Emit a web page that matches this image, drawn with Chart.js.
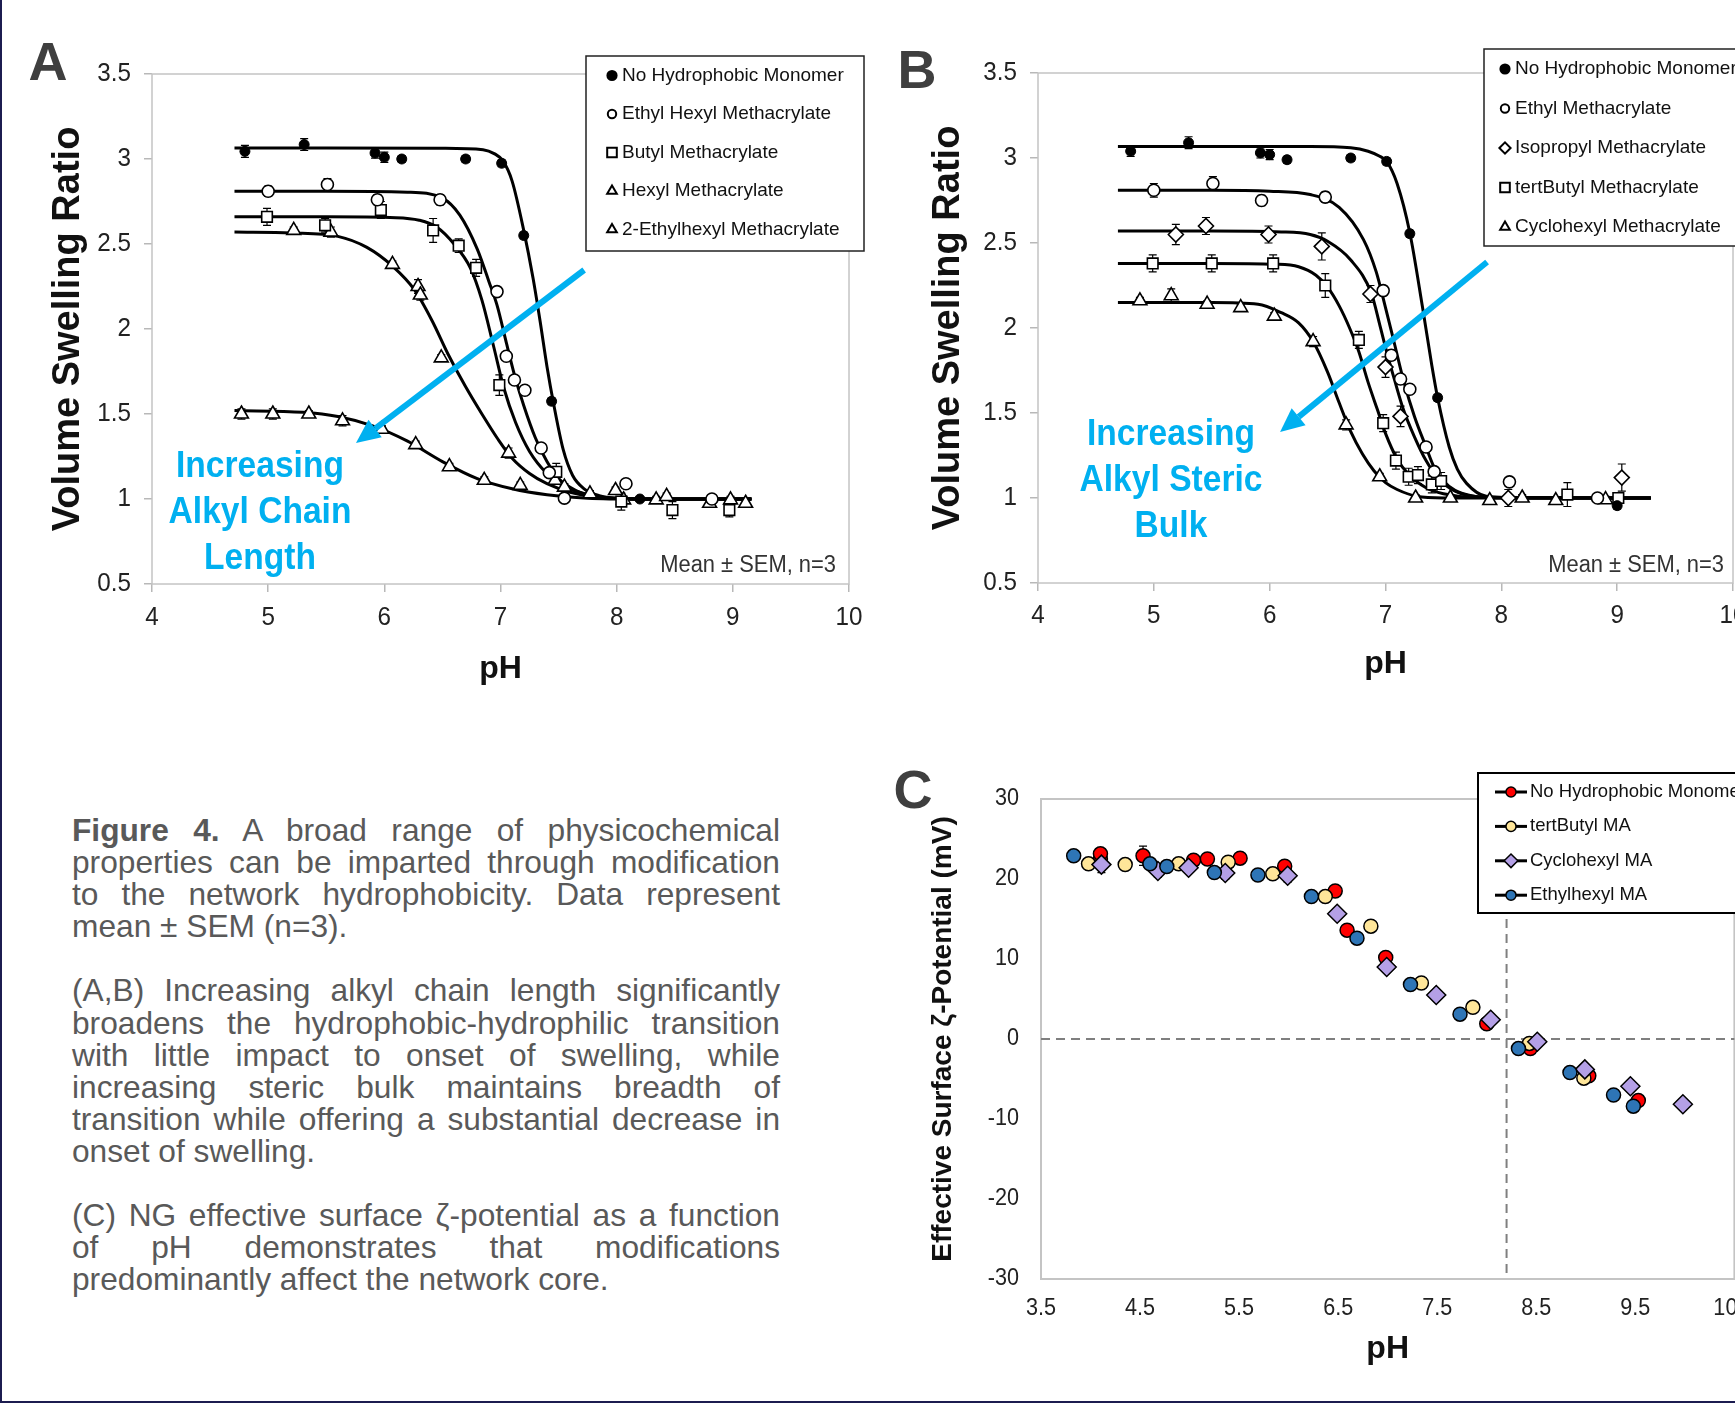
<!DOCTYPE html>
<html>
<head>
<meta charset="utf-8">
<script src="https://cdn.jsdelivr.net/npm/chart.js@4.4.1/dist/chart.umd.min.js"></script>
<style>
  html, body { margin: 0; padding: 0; background: #fff; }
  body { width: 1735px; height: 1406px; overflow: hidden; position: relative; font-family: "Liberation Sans", Arial, sans-serif; }
  canvas { position: absolute; }
  .letter { position: absolute; font: bold 54px "Liberation Sans", Arial, sans-serif; color: #3f3f3f; line-height: 1; transform: translate(-50%, -50%); }
  .blue { position: absolute; font: bold 36.5px "Liberation Sans", Arial, sans-serif; color: #00b0f0; line-height: 46px; text-align: center; transform: translateX(-50%) scaleX(0.92); white-space: nowrap; }
  .sem { position: absolute; font: 23.3px "Liberation Sans", Arial, sans-serif; color: #333; line-height: 28px; white-space: nowrap; transform: scaleX(0.94); transform-origin: right center; }
  #caption { position: absolute; left: 72px; top: 814px; width: 708px; font-size: 31.7px; line-height: 32.1px; color: #595959; }
  #caption .j { text-align: justify; text-align-last: justify; white-space: nowrap; }
  #caption .l { text-align: left; white-space: nowrap; }
  #caption .gap { height: 32.1px; }
  #edgeL { position: absolute; left: 0; top: 0; width: 2px; height: 1403px; background: #1c1c50; }
  #edgeB { position: absolute; left: 0; top: 1401px; width: 1735px; height: 2px; background: #1c1c50; }
</style>
</head>
<body>
<canvas id="cvA" width="880" height="700" style="left:0;top:0"></canvas>
<canvas id="cvB" width="1000" height="700" style="left:880px;top:0"></canvas>
<canvas id="cvC" width="1000" height="666" style="left:880px;top:740px"></canvas>

<div class="letter" style="left:48px;top:61px">A</div>
<div class="letter" style="left:917px;top:69px">B</div>
<div class="letter" style="left:913px;top:789px">C</div>

<div class="blue" style="left:260px;top:442px">Increasing<br>Alkyl Chain<br>Length</div>
<div class="blue" style="left:1171px;top:410px">Increasing<br>Alkyl Steric<br>Bulk</div>
<div class="sem" style="right:899px;top:550px">Mean ± SEM, n=3</div>
<div class="sem" style="right:11px;top:550px">Mean ± SEM, n=3</div>

<div id="caption">
  <div class="j"><b>Figure 4.</b> A broad range of physicochemical</div>
  <div class="j">properties can be imparted through modification</div>
  <div class="j">to the network hydrophobicity. Data represent</div>
  <div class="l">mean ± SEM (n=3).</div>
  <div class="gap"></div>
  <div class="j">(A,B) Increasing alkyl chain length significantly</div>
  <div class="j">broadens the hydrophobic-hydrophilic transition</div>
  <div class="j">with little impact to onset of swelling, while</div>
  <div class="j">increasing steric bulk maintains breadth of</div>
  <div class="j">transition while offering a substantial decrease in</div>
  <div class="l">onset of swelling.</div>
  <div class="gap"></div>
  <div class="j">(C) NG effective surface ζ-potential as a function</div>
  <div class="j">of pH demonstrates that modifications</div>
  <div class="l">predominantly affect the network core.</div>
</div>

<div id="edgeL"></div>
<div id="edgeB"></div>

<script>
// ---- Panel A: volume swelling ratio vs pH (alkyl chain length)
const aLabels = ["No Hydrophobic Monomer", "Ethyl Hexyl Methacrylate", "Butyl Methacrylate", "Hexyl Methacrylate", "2-Ethylhexyl Methacrylate"];

const aNoneX = [4.80, 5.31, 5.92, 6.00, 6.15, 6.70, 7.01, 7.20, 7.44, 8.20];
const aNoneY = [3.045, 3.085, 3.035, 3.01, 3.00, 3.00, 2.975, 2.55, 1.575, 1.00];
const aNoneErr = [0.035, 0.035, 0.03, 0.03, 0.02, 0.02, 0.02, 0.02, 0.02, 0.01];
const aNoneFitX = [4.71, 5.5, 6.5, 6.85, 6.95, 7.02, 7.10, 7.20, 7.28, 7.34, 7.40, 7.46, 7.54, 7.62, 7.72, 7.85, 8.0, 8.3, 9.16];
const aNoneFitY = [3.065, 3.065, 3.063, 3.055, 3.03, 2.99, 2.87, 2.58, 2.30, 2.05, 1.78, 1.55, 1.29, 1.14, 1.06, 1.02, 1.005, 1.0, 1.0];

const aEhmaX = [5.00, 5.51, 5.94, 6.48, 6.97, 7.05, 7.12, 7.21, 7.35, 7.42, 7.55, 8.08, 8.82];
const aEhmaY = [2.81, 2.85, 2.76, 2.76, 2.22, 1.84, 1.70, 1.64, 1.30, 1.155, 1.005, 1.09, 1.00];
const aEhmaErr = [0.03, 0.035, 0.03, 0.03, 0.02, 0.02, 0.02, 0.02, 0.02, 0.02, 0.01, 0.02, 0.01];
const aEhmaFitX = [4.71, 5.5, 6.2, 6.5, 6.65, 6.8, 6.9, 6.97, 7.05, 7.12, 7.2, 7.3, 7.4, 7.5, 7.65, 7.85, 8.2, 9.16];
const aEhmaFitY = [2.81, 2.81, 2.805, 2.77, 2.67, 2.47, 2.28, 2.14, 1.92, 1.73, 1.55, 1.36, 1.22, 1.12, 1.05, 1.01, 1.0, 1.0];

const aBmaX = [4.99, 5.49, 5.97, 6.42, 6.64, 6.79, 6.99, 7.48, 8.04, 8.48, 8.97];
const aBmaY = [2.66, 2.61, 2.70, 2.58, 2.49, 2.36, 1.67, 1.16, 0.985, 0.935, 0.935];
const aBmaErr = [0.05, 0.04, 0.05, 0.07, 0.04, 0.05, 0.06, 0.05, 0.05, 0.05, 0.04];
const aBmaFitX = [4.71, 5.5, 6.1, 6.3, 6.45, 6.6, 6.74, 6.84, 6.94, 7.03, 7.13, 7.25, 7.4, 7.56, 7.8, 8.1, 9.16];
const aBmaFitY = [2.66, 2.66, 2.655, 2.64, 2.60, 2.50, 2.36, 2.17, 1.90, 1.65, 1.45, 1.28, 1.15, 1.07, 1.02, 1.0, 1.0];

const aHmaX = [5.22, 5.54, 6.07, 6.29, 6.31, 6.49, 7.07, 7.47, 7.55, 7.99, 8.43, 8.98];
const aHmaY = [2.58, 2.57, 2.38, 2.25, 2.20, 1.83, 1.27, 1.11, 1.07, 1.05, 1.015, 0.995];
const aHmaErr = [0.02, 0.03, 0.02, 0.04, 0.03, 0.02, 0.03, 0.02, 0.02, 0.02, 0.02, 0.02];
const aHmaFitX = [4.71, 5.2, 5.6, 5.85, 6.07, 6.26, 6.41, 6.55, 6.7, 6.84, 6.98, 7.1, 7.25, 7.4, 7.6, 7.85, 8.2, 9.16];
const aHmaFitY = [2.57, 2.565, 2.545, 2.48, 2.37, 2.23, 2.05, 1.85, 1.66, 1.50, 1.35, 1.24, 1.15, 1.09, 1.04, 1.01, 1.0, 1.0];

const aEh2X = [4.77, 5.04, 5.35, 5.64, 5.98, 6.27, 6.56, 6.86, 7.17, 7.77, 8.06, 8.34, 8.80, 9.11];
const aEh2Y = [1.50, 1.50, 1.50, 1.46, 1.41, 1.32, 1.19, 1.11, 1.08, 1.03, 0.995, 0.995, 0.975, 0.975];
const aEh2Err = [0.03, 0.03, 0.02, 0.03, 0.02, 0.02, 0.02, 0.02, 0.02, 0.02, 0.02, 0.02, 0.02, 0.02];
const aEh2FitX = [4.71, 5.3, 5.6, 5.9, 6.2, 6.5, 6.8, 7.1, 7.4, 7.75, 8.2, 9.16];
const aEh2FitY = [1.52, 1.51, 1.485, 1.43, 1.34, 1.22, 1.12, 1.06, 1.025, 1.005, 1.0, 1.0];

// ---- Panel B: volume swelling ratio vs pH (steric bulk)
const bLabels = ["No Hydrophobic Monomer", "Ethyl Methacrylate", "Isopropyl Methacrylate", "tertButyl Methacrylate", "Cyclohexyl Methacrylate"];

const bNoneX = [4.80, 5.30, 5.92, 6.00, 6.15, 6.70, 7.01, 7.21, 7.45, 9.00];
const bNoneY = [3.04, 3.09, 3.03, 3.02, 2.99, 3.00, 2.98, 2.555, 1.59, 0.955];
const bNoneErr = [0.03, 0.035, 0.03, 0.03, 0.02, 0.02, 0.02, 0.02, 0.02, 0.02];
const bNoneFitX = [4.69, 5.5, 6.35, 6.7, 6.85, 6.95, 7.01, 7.1, 7.21, 7.32, 7.4, 7.45, 7.55, 7.62, 7.7, 7.87, 8.2, 9.29];
const bNoneFitY = [3.067, 3.067, 3.067, 3.06, 3.04, 3.01, 2.98, 2.85, 2.56, 2.12, 1.78, 1.59, 1.30, 1.17, 1.086, 1.01, 1.0, 1.0];

const bEmaX = [5.00, 5.51, 5.93, 6.48, 6.98, 7.05, 7.13, 7.21, 7.35, 7.42, 8.07, 8.83];
const bEmaY = [2.81, 2.85, 2.75, 2.77, 2.22, 1.84, 1.70, 1.64, 1.30, 1.155, 1.095, 1.00];
const bEmaErr = [0.04, 0.04, 0.03, 0.03, 0.03, 0.03, 0.02, 0.02, 0.02, 0.02, 0.02, 0.01];
const bEmaFitX = [4.69, 5.5, 6.0, 6.35, 6.6, 6.81, 6.92, 7.0, 7.08, 7.16, 7.25, 7.35, 7.42, 7.5, 7.6, 7.75, 8.0, 9.29];
const bEmaFitY = [2.81, 2.81, 2.805, 2.785, 2.71, 2.52, 2.33, 2.12, 1.90, 1.68, 1.48, 1.30, 1.18, 1.10, 1.045, 1.012, 1.0, 1.0];

const bIpmaX = [5.19, 5.45, 5.99, 6.45, 6.87, 7.00, 7.13, 8.06, 9.04];
const bIpmaY = [2.55, 2.60, 2.55, 2.48, 2.20, 1.77, 1.48, 1.00, 1.12];
const bIpmaErr = [0.06, 0.05, 0.05, 0.08, 0.05, 0.06, 0.06, 0.05, 0.08];
const bIpmaFitX = [4.69, 5.5, 6.1, 6.35, 6.5, 6.7, 6.88, 6.95, 7.01, 7.08, 7.15, 7.25, 7.35, 7.45, 7.6, 7.85, 9.29];
const bIpmaFitY = [2.57, 2.57, 2.565, 2.55, 2.51, 2.40, 2.20, 2.02, 1.86, 1.69, 1.53, 1.36, 1.22, 1.12, 1.04, 1.005, 1.0];

const bTbmaX = [4.99, 5.50, 6.03, 6.48, 6.77, 6.98, 7.09, 7.20, 7.28, 7.40, 7.48, 8.57, 9.01];
const bTbmaY = [2.38, 2.38, 2.38, 2.25, 1.93, 1.44, 1.22, 1.125, 1.135, 1.08, 1.10, 1.02, 1.00];
const bTbmaErr = [0.05, 0.05, 0.05, 0.07, 0.05, 0.05, 0.05, 0.05, 0.05, 0.05, 0.05, 0.07, 0.03];
const bTbmaFitX = [4.69, 5.5, 6.05, 6.25, 6.4, 6.5, 6.6, 6.69, 6.77, 6.85, 6.93, 7.0, 7.1, 7.2, 7.35, 7.5, 7.75, 9.29];
const bTbmaFitY = [2.38, 2.38, 2.375, 2.36, 2.31, 2.24, 2.13, 2.00, 1.86, 1.68, 1.52, 1.38, 1.23, 1.14, 1.06, 1.025, 1.005, 1.0];

const bChmaX = [4.88, 5.15, 5.46, 5.75, 6.04, 6.375, 6.66, 6.95, 7.26, 7.56, 7.90, 8.18, 8.47, 8.90];
const bChmaY = [2.16, 2.19, 2.14, 2.12, 2.07, 1.92, 1.43, 1.125, 1.00, 1.00, 0.985, 1.00, 0.985, 0.99];
const bChmaErr = [0.02, 0.04, 0.02, 0.02, 0.02, 0.03, 0.03, 0.02, 0.02, 0.02, 0.02, 0.02, 0.02, 0.02];
const bChmaFitX = [4.69, 5.5, 5.9, 6.1, 6.25, 6.375, 6.5, 6.6, 6.7, 6.8, 6.9, 7.0, 7.1, 7.27, 7.5, 9.29];
const bChmaFitY = [2.15, 2.15, 2.14, 2.09, 2.03, 1.92, 1.74, 1.56, 1.39, 1.26, 1.16, 1.09, 1.05, 1.01, 1.0, 1.0];

// ---- Panel C: effective surface zeta potential vs pH
const cLabels = ["No Hydrophobic Monomer", "tertButyl MA", "Cyclohexyl MA", "Ethylhexyl MA"];
const cNoneX = [4.10, 4.10, 4.53, 5.04, 5.18, 5.51, 5.96, 6.47, 6.59, 6.98, 8.00, 8.44, 9.03, 9.53];
const cNoneY = [22.5, 23.15, 22.9, 22.35, 22.5, 22.6, 21.6, 18.5, 13.6, 10.2, 1.9, -1.2, -4.6, -7.7];
const cNoneErr = [0, 0.6, 1.2, 0.5, 0.5, 0.5, 0.6, 0.3, 0.3, 0.4, 0.3, 0.3, 0.3, 0.3];
const cTbX = [3.98, 4.35, 4.89, 5.39, 5.84, 6.37, 6.83, 7.34, 7.86, 8.43, 8.98];
const cTbY = [21.9, 21.8, 21.9, 22.1, 20.65, 17.8, 14.1, 7.0, 3.96, -0.55, -4.9];
const cTbErr = [0.3, 0.3, 0.3, 0.5, 0.3, 0.3, 0.3, 0.3, 0.3, 0.3, 0.3];
const cChX = [4.11, 4.68, 4.99, 5.36, 5.99, 6.49, 6.99, 7.49, 8.04, 8.51, 8.99, 9.45, 9.98];
const cChY = [21.8, 21.0, 21.4, 20.75, 20.4, 15.65, 9.0, 5.5, 2.4, -0.35, -3.8, -5.9, -8.15];
const cChErr = [1.0, 0.8, 0.6, 0.8, 0.8, 0.3, 0.5, 0.3, 0.3, 0.3, 0.3, 0.3, 0.3];
const cEhX = [3.83, 4.60, 4.77, 5.25, 5.69, 6.23, 6.69, 7.23, 7.73, 8.32, 8.84, 9.28, 9.48];
const cEhY = [22.9, 21.9, 21.55, 20.8, 20.5, 17.8, 12.6, 6.8, 3.1, -1.2, -4.2, -7.0, -8.4];
const cEhErr = [0.3, 0.3, 0.3, 0.3, 0.3, 0.3, 0.3, 0.3, 0.3, 0.3, 0.3, 0.3, 0.3];
const cZeroPH = 8.2;

// ---------------------------------------------------------------
const sans = '"Liberation Sans", Arial, sans-serif';

function pts(xs, ys) {
  return xs.map(function (x, i) { return { x: x, y: ys[i] }; });
}

// the original text is a touch condensed; squeeze the regular face sideways
function squashText(ctx, text, x, y, align, k) {
  ctx.save();
  ctx.translate(x, y);
  ctx.scale(k, 1);
  ctx.textAlign = align;
  ctx.fillText(text, 0, 0);
  ctx.restore();
}

const mk = {
  filled: { pointStyle: 'circle', radius: 5, bg: '#000', legend: 4.6 },
  circle: { pointStyle: 'circle', radius: 6, bg: '#fff', legend: 4.2 },
  square: { pointStyle: 'rect', radius: 7.5, bg: '#fff', legend: 6.8 },
  tri: { pointStyle: 'triangle', radius: 8, bg: '#fff', legend: 5.6 },
  diamond: { pointStyle: 'rectRot', radius: 7.5, bg: '#fff', legend: 5.6 }
};

function markers(label, xs, ys, err, m, bw) {
  return {
    label: label, data: pts(xs, ys), err: err, showLine: false, inLegend: true, order: 0,
    pointStyle: m.pointStyle, pointRadius: m.radius, pointHoverRadius: m.radius, legendRadius: m.legend,
    pointBackgroundColor: m.bg, pointBorderColor: '#000', pointBorderWidth: bw || 1.6
  };
}

function fit(xs, ys) {
  return {
    label: '', data: pts(xs, ys), showLine: true, pointRadius: 0, borderColor: '#000',
    borderWidth: 3, cubicInterpolationMode: 'monotone', order: 1, fill: false
  };
}

// light grey box round the plot area
const plotFrame = {
  id: 'plotFrame',
  beforeDatasetsDraw(chart, args, o) {
    const a = chart.chartArea, ctx = chart.ctx;
    ctx.save();
    ctx.strokeStyle = o.color || '#c4c4c4';
    ctx.lineWidth = o.width || 1.5;
    ctx.strokeRect(a.left, a.top, a.right - a.left, a.bottom - a.top);
    ctx.restore();
  }
};

// SEM bars, drawn under the markers
const errorBars = {
  id: 'errorBars',
  beforeDatasetsDraw(chart, args, o) {
    const ctx = chart.ctx, xs = chart.scales.x, ys = chart.scales.y;
    ctx.save();
    ctx.strokeStyle = '#000';
    ctx.lineWidth = o.width || 1.3;
    chart.data.datasets.forEach(function (d) {
      if (!d.err) return;
      d.data.forEach(function (p, i) {
        const e = d.err[i];
        if (!e) return;
        const px = xs.getPixelForValue(p.x);
        const top = ys.getPixelForValue(p.y + e), bot = ys.getPixelForValue(p.y - e);
        ctx.beginPath();
        ctx.moveTo(px, top); ctx.lineTo(px, bot);
        ctx.moveTo(px - o.cap, top); ctx.lineTo(px + o.cap, top);
        ctx.moveTo(px - o.cap, bot); ctx.lineTo(px + o.cap, bot);
        ctx.stroke();
      });
    });
    ctx.restore();
  }
};

// tick labels, positions from the library's scales
const axisLabels = {
  id: 'axisLabels',
  afterDraw(chart, args, o) {
    const ctx = chart.ctx, a = chart.chartArea, xs = chart.scales.x, ys = chart.scales.y;
    ctx.save();
    ctx.fillStyle = o.color;
    ctx.font = o.size + 'px ' + sans;
    ctx.textBaseline = 'middle';
    xs.ticks.forEach(function (t, i) {
      squashText(ctx, String(t.label), xs.getPixelForTick(i), a.bottom + o.xOff, 'center', o.squash);
    });
    ys.ticks.forEach(function (t, i) {
      squashText(ctx, String(t.label), a.left - o.yOff, ys.getPixelForTick(i), 'right', o.squash);
    });
    ctx.restore();
  }
};

// boxed legend placed inside the plot, like the Excel original
const boxLegend = {
  id: 'boxLegend',
  afterDatasetsDraw(chart, args, o) {
    const ctx = chart.ctx, b = o.box;
    ctx.save();
    ctx.fillStyle = '#fff';
    ctx.fillRect(b[0], b[1], b[2], b[3]);
    ctx.strokeStyle = o.borderColor;
    ctx.lineWidth = o.borderWidth;
    ctx.strokeRect(b[0], b[1], b[2], b[3]);
    const items = chart.data.datasets.filter(function (d) { return d.inLegend; });
    items.forEach(function (d, i) {
      const y = o.rowY + i * o.rowGap;
      if (o.lineHalf) {
        ctx.strokeStyle = '#000';
        ctx.lineWidth = 3;
        ctx.beginPath();
        ctx.moveTo(o.symX - o.lineHalf, y);
        ctx.lineTo(o.symX + o.lineHalf, y);
        ctx.stroke();
      }
      ctx.fillStyle = d.pointBackgroundColor;
      ctx.strokeStyle = d.pointBorderColor;
      ctx.lineWidth = o.symBorder || d.pointBorderWidth;
      const r = d.legendRadius || d.pointRadius * o.symScale;
      Chart.helpers.drawPoint(ctx, { pointStyle: d.pointStyle, radius: r, borderWidth: ctx.lineWidth, rotation: 0 }, o.symX, y);
      ctx.fillStyle = o.color;
      ctx.font = o.font;
      ctx.textBaseline = 'middle';
      squashText(ctx, d.label, o.textX, y, 'left', o.squash);
    });
    ctx.restore();
  }
};

// blue arrow given in data units
const trendArrow = {
  id: 'trendArrow',
  afterDatasetsDraw(chart, args, o) {
    if (!o.from) return;
    const xs = chart.scales.x, ys = chart.scales.y, ctx = chart.ctx;
    const x0 = xs.getPixelForValue(o.from[0]), y0 = ys.getPixelForValue(o.from[1]);
    const x1 = xs.getPixelForValue(o.to[0]), y1 = ys.getPixelForValue(o.to[1]);
    const ang = Math.atan2(y1 - y0, x1 - x0);
    const head = 24, half = 11;
    const bx = x1 - head * Math.cos(ang), by = y1 - head * Math.sin(ang);
    ctx.save();
    ctx.strokeStyle = o.color;
    ctx.fillStyle = o.color;
    ctx.lineWidth = 6;
    ctx.beginPath();
    ctx.moveTo(x0, y0);
    ctx.lineTo(bx, by);
    ctx.stroke();
    ctx.beginPath();
    ctx.moveTo(x1, y1);
    ctx.lineTo(bx + half * Math.sin(ang), by - half * Math.cos(ang));
    ctx.lineTo(bx - half * Math.sin(ang), by + half * Math.cos(ang));
    ctx.closePath();
    ctx.fill();
    ctx.restore();
  }
};

// dashed zero lines for panel C
const zeroLines = {
  id: 'zeroLines',
  beforeDatasetsDraw(chart, args, o) {
    if (o.xAt === undefined) return;
    const a = chart.chartArea, ctx = chart.ctx;
    const px = chart.scales.x.getPixelForValue(o.xAt);
    const py = chart.scales.y.getPixelForValue(0);
    ctx.save();
    ctx.strokeStyle = '#7f7f7f';
    ctx.lineWidth = 2;
    ctx.setLineDash([9, 6]);
    ctx.beginPath();
    ctx.moveTo(a.left, py); ctx.lineTo(a.right, py);
    ctx.moveTo(px, a.top); ctx.lineTo(px, a.bottom);
    ctx.stroke();
    ctx.restore();
  }
};

function plainLabel(v) { return String(v); }

function swellScales(yWidth, xHeight, yTitlePad, xTitlePad) {
  return {
    x: {
      type: 'linear', min: 4, max: 10,
      ticks: { stepSize: 1, display: false, callback: plainLabel, autoSkip: false },
      grid: { drawOnChartArea: false, drawTicks: true, tickLength: 8, color: '#b8b8b8', lineWidth: 1.5 },
      border: { display: false },
      title: { display: true, text: 'pH', color: '#111', font: { family: sans, size: 32, weight: 'bold' }, padding: { top: 0, bottom: xTitlePad } },
      afterFit: function (s) { s.height = xHeight; }
    },
    y: {
      type: 'linear', min: 0.5, max: 3.5,
      ticks: { stepSize: 0.5, display: false, callback: plainLabel },
      grid: { drawOnChartArea: false, drawTicks: true, tickLength: 8, color: '#b8b8b8', lineWidth: 1.5 },
      border: { display: false },
      title: { display: true, text: 'Volume Swelling Ratio', color: '#111', font: { family: sans, size: 38, weight: 'bold' }, padding: { top: yTitlePad, bottom: 0 } },
      afterFit: function (s) { s.width = yWidth; }
    }
  };
}

function legendOpts(left, top, width, height, rowY, rowGap, symX, textX) {
  return {
    box: [left, top, width, height], borderColor: '#222', borderWidth: 1.5,
    rowY: rowY, rowGap: rowGap, symX: symX, textX: textX, symScale: 0.7, symBorder: 2,
    color: '#111', font: '19px ' + sans, squash: 1
  };
}

const common = {
  responsive: false, animation: false, events: [],
  plugins: { legend: { display: false }, tooltip: { enabled: false } }
};

// Panel A
new Chart(document.getElementById('cvA'), {
  type: 'scatter',
  data: {
    datasets: [
      markers(aLabels[0], aNoneX, aNoneY, aNoneErr, mk.filled, 1),
      markers(aLabels[1], aEhmaX, aEhmaY, aEhmaErr, mk.circle),
      markers(aLabels[2], aBmaX, aBmaY, aBmaErr, mk.square),
      markers(aLabels[3], aHmaX, aHmaY, aHmaErr, mk.tri),
      markers(aLabels[4], aEh2X, aEh2Y, aEh2Err, mk.tri),
      fit(aNoneFitX, aNoneFitY), fit(aEhmaFitX, aEhmaFitY), fit(aBmaFitX, aBmaFitY),
      fit(aHmaFitX, aHmaFitY), fit(aEh2FitX, aEh2FitY)
    ]
  },
  options: Object.assign({}, common, {
    layout: { padding: { left: 0, top: 74, right: 31, bottom: 0 } },
    scales: swellScales(152, 116, 46, 12),
    plugins: Object.assign({}, common.plugins, {
      boxLegend: legendOpts(586, 56, 278, 195, 75.5, 38.5, 612, 622),
      trendArrow: { from: [7.72, 2.347], to: [5.756, 1.329], color: '#00b0f0' },
      plotFrame: { color: '#c4c4c4', width: 1.5 },
      errorBars: { cap: 4, width: 1.2 },
      axisLabels: { color: '#222', size: 25.5, squash: 0.95, xOff: 33.5, yOff: 21 }
    })
  }),
  plugins: [plotFrame, errorBars, trendArrow, boxLegend, axisLabels]
});

// Panel B
new Chart(document.getElementById('cvB'), {
  type: 'scatter',
  data: {
    datasets: [
      markers(bLabels[0], bNoneX, bNoneY, bNoneErr, mk.filled, 1),
      markers(bLabels[1], bEmaX, bEmaY, bEmaErr, mk.circle),
      markers(bLabels[2], bIpmaX, bIpmaY, bIpmaErr, mk.diamond),
      markers(bLabels[3], bTbmaX, bTbmaY, bTbmaErr, mk.square),
      markers(bLabels[4], bChmaX, bChmaY, bChmaErr, mk.tri),
      fit(bNoneFitX, bNoneFitY), fit(bEmaFitX, bEmaFitY), fit(bIpmaFitX, bIpmaFitY),
      fit(bTbmaFitX, bTbmaFitY), fit(bChmaFitX, bChmaFitY)
    ]
  },
  options: Object.assign({}, common, {
    layout: { padding: { left: 0, top: 73, right: 147, bottom: 0 } },
    scales: swellScales(158, 117, 46, 17),
    plugins: Object.assign({}, common.plugins, {
      boxLegend: legendOpts(604, 49, 300, 197, 69, 39.5, 625, 635),
      trendArrow: { from: [7.877, 2.388], to: [6.09, 1.388], color: '#00b0f0' },
      plotFrame: { color: '#c4c4c4', width: 1.5 },
      errorBars: { cap: 4, width: 1.2 },
      axisLabels: { color: '#222', size: 25.5, squash: 0.95, xOff: 32.5, yOff: 21 }
    })
  }),
  plugins: [plotFrame, errorBars, trendArrow, boxLegend, axisLabels]
});

// Panel C
function zeta(label, xs, ys, err, style, color, r, order) {
  return {
    label: label, data: pts(xs, ys), err: err, showLine: false, inLegend: true, order: order,
    pointStyle: style, pointRadius: r, pointHoverRadius: r,
    pointBackgroundColor: color, pointBorderColor: '#000', pointBorderWidth: 1.5
  };
}

new Chart(document.getElementById('cvC'), {
  type: 'scatter',
  data: {
    datasets: [
      zeta(cLabels[0], cNoneX, cNoneY, cNoneErr, 'circle', '#ff0000', 7, 4),
      zeta(cLabels[1], cTbX, cTbY, cTbErr, 'circle', '#ffe699', 7, 3),
      zeta(cLabels[2], cChX, cChY, cChErr, 'rectRot', '#b4a0e6', 9.5, 2),
      zeta(cLabels[3], cEhX, cEhY, cEhErr, 'circle', '#2e75b6', 7, 1)
    ]
  },
  options: Object.assign({}, common, {
    layout: { padding: { left: 0, top: 59, right: 145.6, bottom: 0 } },
    scales: {
      x: {
        type: 'linear', min: 3.5, max: 10.5,
        ticks: { stepSize: 1, display: false, callback: plainLabel, autoSkip: false },
        grid: { display: false },
        border: { display: false },
        title: { display: true, text: 'pH', color: '#111', font: { family: sans, size: 32, weight: 'bold' }, padding: { top: 0, bottom: 38 } },
        afterFit: function (s) { s.height = 127; }
      },
      y: {
        type: 'linear', min: -30, max: 30,
        ticks: { stepSize: 10, display: false, callback: plainLabel },
        grid: { display: false },
        border: { display: false },
        title: { display: true, text: 'Effective Surface ζ-Potential (mV)', color: '#111', font: { family: sans, size: 28, weight: 'bold' }, padding: { top: 46, bottom: 0 } },
        afterFit: function (s) { s.width = 161; }
      }
    },
    plugins: Object.assign({}, common.plugins, {
      zeroLines: { xAt: cZeroPH },
      plotFrame: { color: '#c4c4c4', width: 2 },
      errorBars: { cap: 4, width: 1.2 },
      axisLabels: { color: '#222', size: 23.5, squash: 0.92, xOff: 30, yOff: 22 },
      boxLegend: {
        box: [598, 33, 320, 140], borderColor: '#000', borderWidth: 2,
        rowY: 52, rowGap: 34.4, symX: 631, textX: 650, symScale: 0.72, lineHalf: 16,
        color: '#111', font: '18.5px ' + sans, squash: 1
      }
    })
  }),
  plugins: [plotFrame, zeroLines, errorBars, boxLegend, axisLabels]
});
</script>
</body>
</html>
